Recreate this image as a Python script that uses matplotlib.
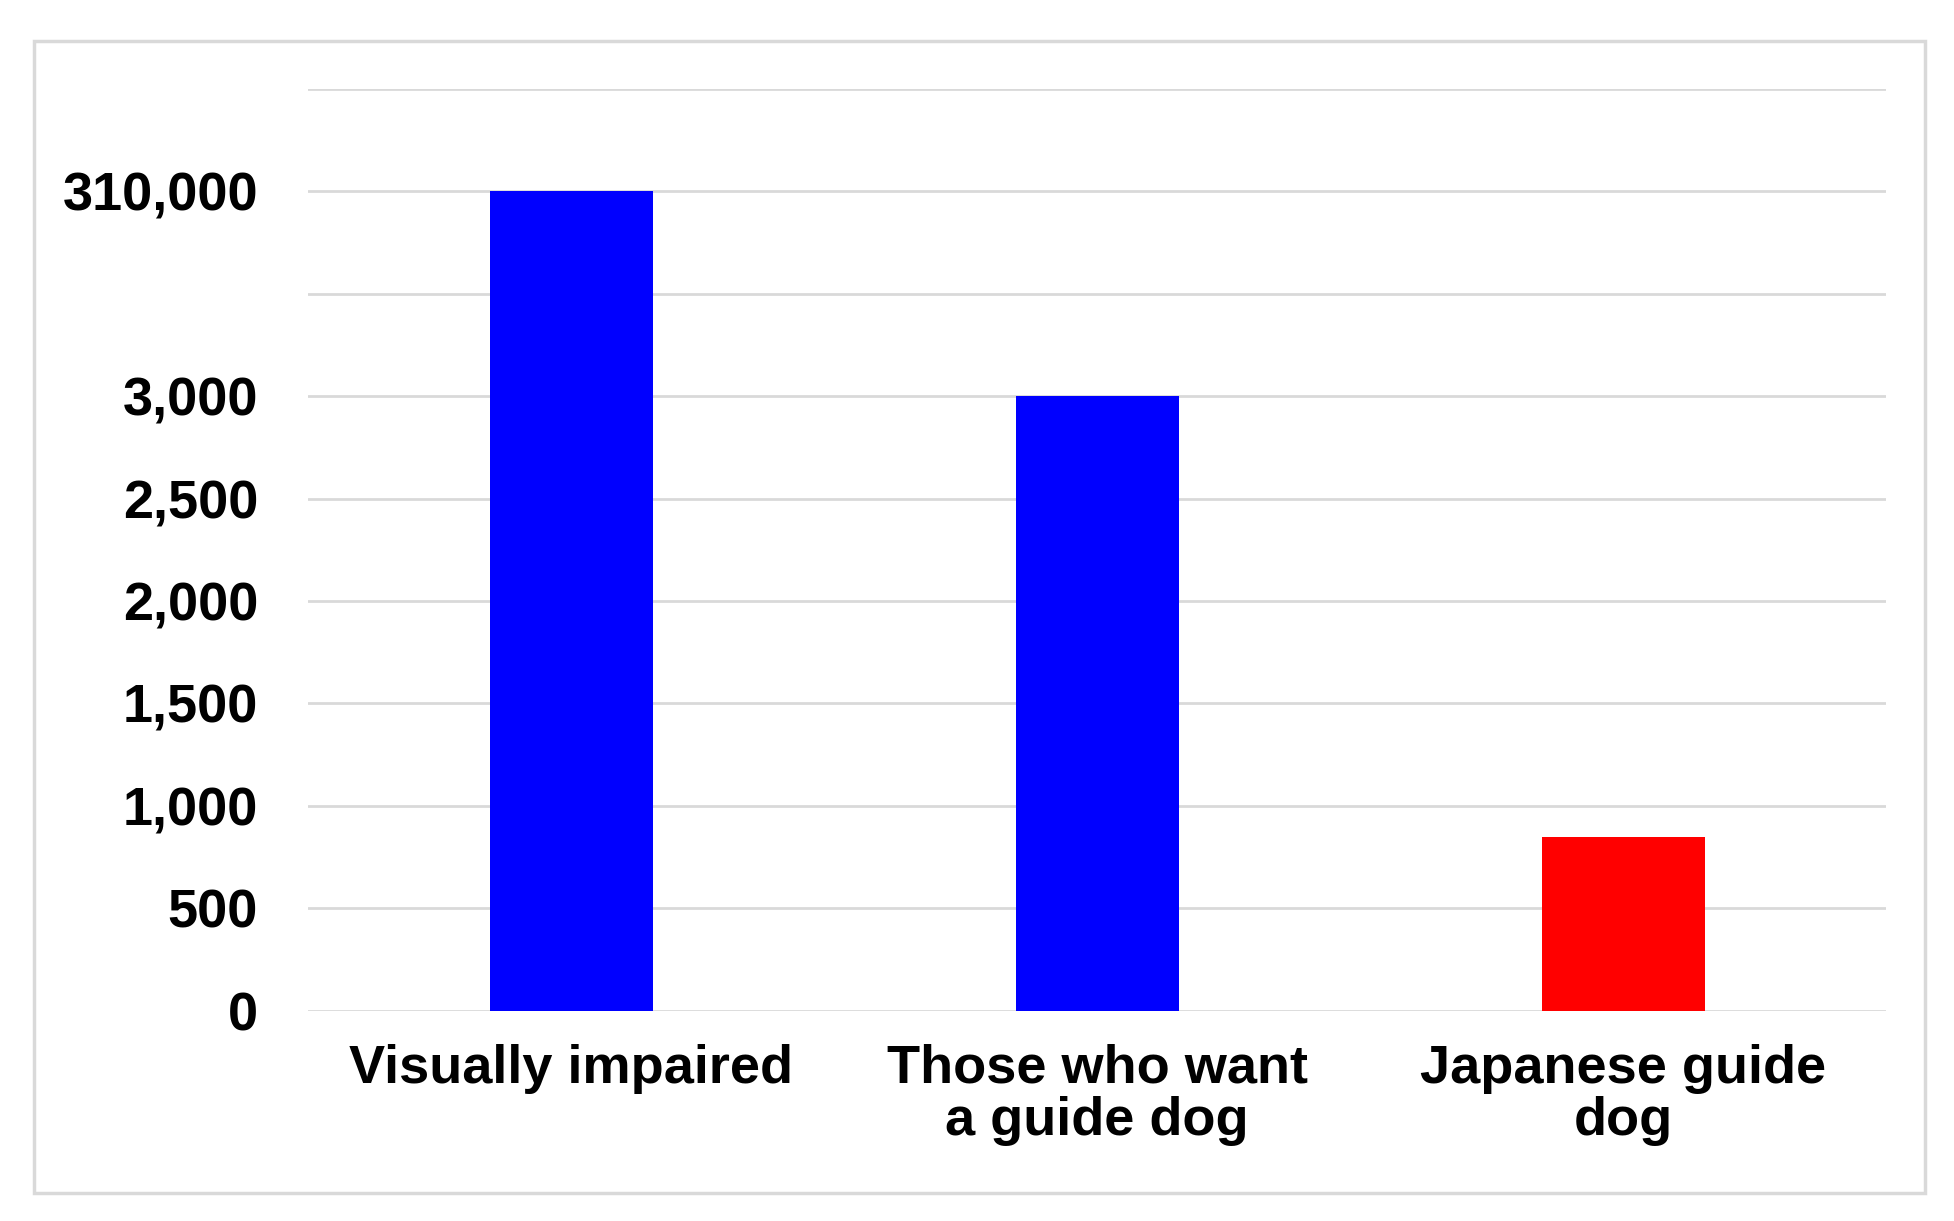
import matplotlib
matplotlib.use("Agg")
import matplotlib.pyplot as plt
from matplotlib.patches import Rectangle
import numpy as np

categories = ["Visually impaired", "Those who want\na guide dog", "Japanese guide\ndog"]
values = [310000, 3000, 850]
colors = ["#0000ff", "#0000ff", "#ff0000"]
tick_values = [0, 500, 1000, 1500, 2000, 2500, 3000, 310000]
tick_labels = ["0", "500", "1,000", "1,500", "2,000", "2,500", "3,000", "310,000"]

BREAK, TOP = 3000.0, 310000.0
def fwd(y):
    y = np.asarray(y, dtype=float)
    return np.where(y <= BREAK, y, BREAK + (y - BREAK) / (TOP - BREAK) * 1000)
def inv(v):
    v = np.asarray(v, dtype=float)
    return np.where(v <= BREAK, v, BREAK + (v - BREAK) / 1000 * (TOP - BREAK))

plt.rcParams['font.family'] = ['Liberation Sans', 'DejaVu Sans']
fig = plt.figure(figsize=(19.54, 12.21), dpi=100)
fig.patches.append(Rectangle((27/1560, 1-953/975), 1510/1560, 920/975, transform=fig.transFigure,
                             fill=False, edgecolor="#d9d9d9", linewidth=2.5))
ax = fig.add_axes([246/1560, 1-807/975, 1260/1560, 736/975])
ax.set_yscale('function', functions=(fwd, inv))
x = range(len(categories))
ax.bar(x, values, width=0.31, color=colors, zorder=3)
ax.set_xlim(-0.5, 2.5)
ax.set_ylim(0, float(inv(4500)))
grid_vals = [0, 500, 1000, 1500, 2000, 2500, 3000, float(inv(3500)), 310000, float(inv(4500))]
for g in grid_vals:
    ax.axhline(g, color="#d9d9d9", linewidth=2, zorder=1)
ax.set_yticks(tick_values)
ax.set_yticklabels(tick_labels)
ax.set_xticks(list(x))
ax.set_xticklabels(categories, linespacing=1.05)
ax.tick_params(axis='both', length=0, labelsize=39)
ax.tick_params(axis='y', pad=36)
ax.tick_params(axis='x', pad=24)
for lab in ax.get_xticklabels() + ax.get_yticklabels():
    lab.set_fontweight('bold')
for s in ax.spines.values():
    s.set_visible(False)
fig.savefig("out.png", dpi=100)
